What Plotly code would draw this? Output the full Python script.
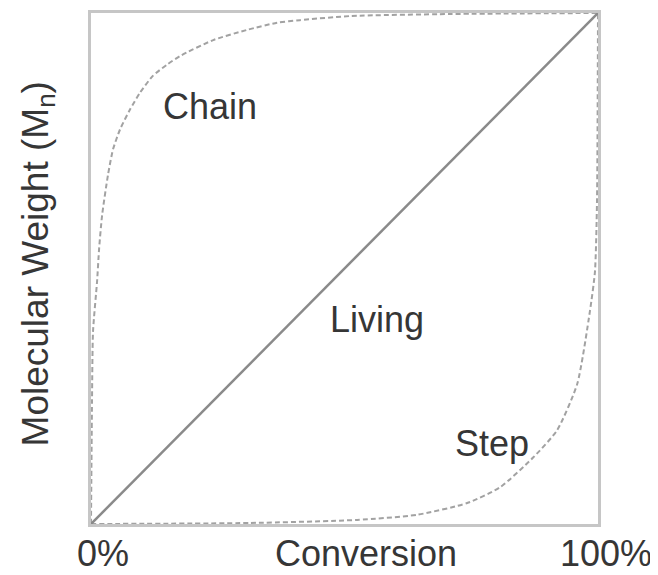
import plotly.graph_objects as go

# Data (conversion %, molecular weight % of max)
chain_x = [0, 0.2, 0.4, 1.2, 1.6, 2.2, 3.35, 4.34, 5.72, 7.69, 9.66, 12.2, 15.0, 17.6, 24.1, 30.8, 36.7, 41.2, 51.1, 70.8, 100]
chain_y = [0, 24.1, 37.7, 47.5, 53.9, 60.5, 68.3, 73.3, 77.2, 81.1, 84.4, 87.7, 89.9, 91.6, 94.7, 96.7, 98.1, 98.6, 99.4, 99.8, 100]

step_x = [0, 31.4, 52.5, 64.3, 74.2, 80.7, 87.2, 91.9, 95.9, 98.4, 99.4, 99.8, 100]
step_y = [0, 0.2, 0.8, 1.8, 4.1, 7.2, 13.0, 18.3, 27.4, 41.6, 49.4, 63.0, 100]

living_x = [0, 100]
living_y = [0, 100]

labels = ["Chain", "Living", "Step"]
label_x = [23.5, 56.4, 79.1]
label_y = [81.7, 40.1, 15.8]

tick_labels = ["0%", "Conversion", "100%"]
tick_pos = [0.024, 0.543, 1.016]
y_title = "Molecular Weight (M<sub>n</sub>)"

font_family = "Liberation Sans, Arial, sans-serif"
text_color = "#363636"

fig = go.Figure()
fig.add_trace(go.Scatter(x=chain_x, y=chain_y, mode="lines",
                         line=dict(color="#a2a2a2", width=2, dash="5px,3px", shape="spline", smoothing=0.6),
                         hoverinfo="skip", showlegend=False))
fig.add_trace(go.Scatter(x=step_x, y=step_y, mode="lines",
                         line=dict(color="#a2a2a2", width=2, dash="5px,3px", shape="spline", smoothing=0.6),
                         hoverinfo="skip", showlegend=False))
fig.add_trace(go.Scatter(x=living_x, y=living_y, mode="lines",
                         line=dict(color="#8a8a8a", width=2.5),
                         hoverinfo="skip", showlegend=False))

annotations = []
for t, x, y in zip(labels, label_x, label_y):
    annotations.append(dict(text=t, x=x, y=y, xref="x", yref="y", showarrow=False,
                            xanchor="center", yanchor="middle",
                            font=dict(family=font_family, size=36, color=text_color)))

for t, x in zip(tick_labels, tick_pos):
    annotations.append(dict(text=t, x=x, y=-0.057, xref="paper", yref="paper",
                            showarrow=False, xanchor="center", yanchor="middle",
                            font=dict(family=font_family, size=36, color=text_color)))

annotations.append(dict(text=y_title, x=-0.1045, y=0.508, xref="paper", yref="paper",
                        showarrow=False, xanchor="center", yanchor="middle", textangle=-90,
                        font=dict(family=font_family, size=37, color=text_color)))

axis_common = dict(range=[0, 100], showgrid=False, zeroline=False, showticklabels=False,
                   ticks="", showline=True, mirror=True, linecolor="#c6c6c6", linewidth=3,
                   fixedrange=True)

# The page body adds an 8px offset, so the figure is sized to fit the window.
fig.update_layout(
    width=650, height=567,
    margin=dict(l=83, r=60, t=2, b=51),
    paper_bgcolor="white", plot_bgcolor="white",
    xaxis=axis_common, yaxis=axis_common,
    annotations=annotations,
)

fig.write_html("out.html")
